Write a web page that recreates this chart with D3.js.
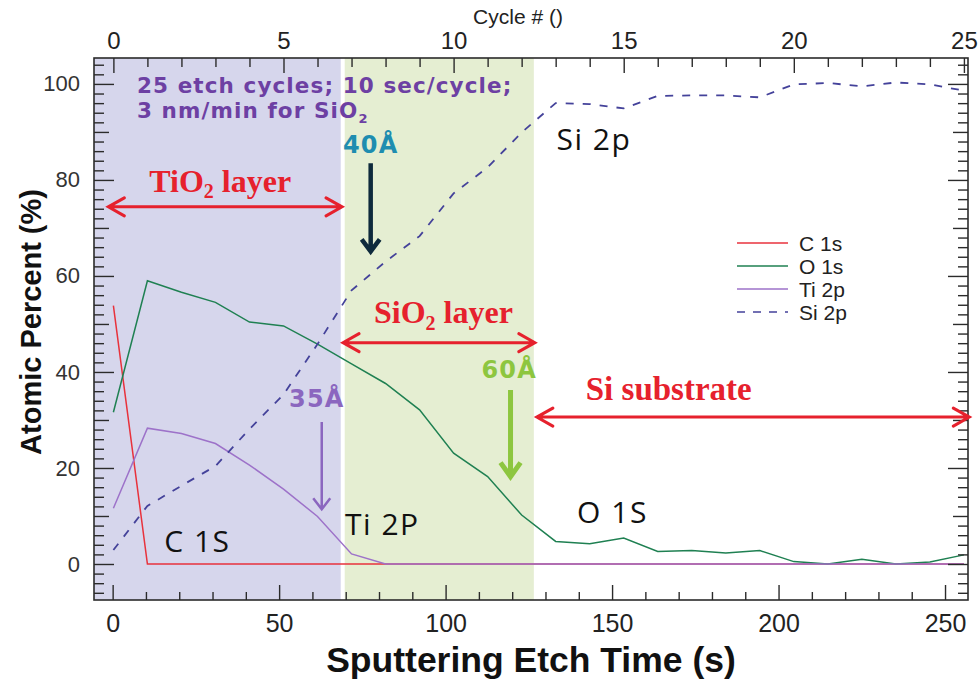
<!DOCTYPE html>
<html>
<head>
<meta charset="utf-8">
<script src="https://cdn.jsdelivr.net/npm/d3@7/dist/d3.min.js"></script>
<style>
  html, body { margin: 0; padding: 0; background: #fff; }
  svg { display: block; }
  .narrow { font-family: "Liberation Sans Narrow", "Arial Narrow", "Liberation Sans", Arial, sans-serif; font-stretch: condensed; }
  .sans { font-family: "Liberation Sans", Arial, sans-serif; }
  .wide { font-family: "DejaVu Sans", Verdana, sans-serif; font-weight: bold; }
  .serif { font-family: "Liberation Serif", "Times New Roman", serif; font-weight: bold; }
  .calib { font-family: "Open Sans", "Noto Sans", sans-serif; }
</style>
</head>
<body>
<svg id="chart" width="979" height="681"></svg>
<script>
// XPS depth profile: atomic percent vs. sputter etch time / etch cycle
const cycles = [0,1,2,3,4,5,6,7,8,9,10,11,12,13,14,15,16,17,18,19,20,21,22,23,24,25];
const c1s  = [53.8,0,0,0,0,0,0,0,0,0,0,0,0,0,0,0,0,0,0,0,0,0,0,0,0,0];
const o1s  = [31.6,59.0,56.6,54.5,50.4,49.6,45.8,41.7,37.6,32.1,23.1,18.2,10.2,4.7,4.2,5.4,2.6,2.8,2.3,2.8,0.5,0,1.0,0,0.4,1.9];
const ti2p = [11.6,28.3,27.2,25.1,20.6,15.6,9.9,2.1,0,0,0,0,0,0,0,0,0,0,0,0,0,0,0,0,0,0];
const si2p = [2.9,12.1,16.3,20.4,28.1,35.3,45.8,57.0,63.0,68.3,77.2,82.6,89.9,96.0,95.8,94.9,97.5,97.6,97.6,97.2,99.9,100.2,99.5,100.3,99.9,98.6];

const seriesNames  = ["C 1s", "O 1s", "Ti 2p", "Si 2p"];
const seriesColors = ["#e8323c", "#1f8052", "#9d72c9", "#44429a"];

const timeTicks    = [0, 50, 100, 150, 200, 250];
const cycleTicks   = [0, 5, 10, 15, 20, 25];
const percentTicks = [0, 20, 40, 60, 80, 100];

// layer bands along the etch-time axis (s)
const bandTiO2 = [-10, 68.5];
const bandSiO2 = [69.7, 126.5];

const svg = d3.select("#chart");
const L = 94, R = 968, T = 58, B = 600;

const x  = d3.scaleLinear().domain([-5.6, 256.9]).range([L, R]);   // etch time (s)
const xc = d3.scaleLinear().domain([-0.57, 25.12]).range([L, R]);  // cycle #
const y  = d3.scaleLinear().domain([-7.5, 105.4]).range([B, T]);   // atomic percent

const plot = svg.append("g");
plot.append("clipPath").attr("id", "clip")
  .append("rect").attr("x", L).attr("y", T).attr("width", R - L).attr("height", B - T);

// shaded layer regions
const bands = plot.append("g").attr("clip-path", "url(#clip)");
bands.append("rect")
  .attr("x", x(bandTiO2[0])).attr("y", T)
  .attr("width", x(bandTiO2[1]) - x(bandTiO2[0])).attr("height", B - T)
  .attr("fill", "#d6d6ec");
bands.append("rect")
  .attr("x", x(bandSiO2[0])).attr("y", T)
  .attr("width", x(bandSiO2[1]) - x(bandSiO2[0])).attr("height", B - T)
  .attr("fill", "#e5eed2");

// axes (ticks point inward)
const axCol = "#2b2b2b";
function styleAxis(g) {
  g.select(".domain").remove();
  g.selectAll(".tick line").attr("stroke", axCol).attr("stroke-width", 1.4);
  g.selectAll("text").attr("fill", "#222");
}
const yMinor = d3.range(-6, 105, 2).filter(v => v % 10 !== 0);
const yMid = [10, 30, 50, 70, 90];
[[L, d3.axisLeft], [R, d3.axisRight]].forEach(([px, ax]) => {
  svg.append("g").attr("transform", `translate(${px},0)`)
    .call(ax(y).tickValues(yMinor).tickSize(-10).tickFormat("")).call(styleAxis);
  svg.append("g").attr("transform", `translate(${px},0)`)
    .call(ax(y).tickValues(yMid).tickSize(-15).tickFormat("")).call(styleAxis);
});
svg.append("g").attr("transform", `translate(${R},0)`)
  .call(d3.axisRight(y).tickValues(percentTicks).tickSize(-20).tickFormat("")).call(styleAxis);
svg.append("g").attr("transform", `translate(${L},0)`)
  .call(d3.axisLeft(y).tickValues(percentTicks).tickSize(-20).tickPadding(14))
  .call(styleAxis)
  .call(g => g.selectAll("text").attr("class", "sans").style("font-size", "22px").attr("fill", "#333"));

// bottom: etch time
const tMinor = d3.range(0, 257, 10).filter(v => v % 50 !== 0);
svg.append("g").attr("transform", `translate(0,${B})`)
  .call(d3.axisBottom(x).tickValues(tMinor).tickSize(-8).tickFormat("")).call(styleAxis);
svg.append("g").attr("transform", `translate(0,${B})`)
  .call(d3.axisBottom(x).tickValues(timeTicks).tickSize(-15).tickPadding(14))
  .call(styleAxis)
  .call(g => g.selectAll("text").attr("class", "narrow").style("font-size", "25px"));

// top: cycle number
const cMinor = cycles.filter(v => v % 5 !== 0);
svg.append("g").attr("transform", `translate(0,${T})`)
  .call(d3.axisTop(xc).tickValues(cMinor).tickSize(-9).tickFormat("")).call(styleAxis);
svg.append("g").attr("transform", `translate(0,${T})`)
  .call(d3.axisTop(xc).tickValues(cycleTicks).tickSize(-15).tickPadding(9))
  .call(styleAxis)
  .call(g => g.selectAll("text").attr("class", "narrow").style("font-size", "24px"));

// frame
svg.append("rect").attr("x", L).attr("y", T).attr("width", R - L).attr("height", B - T)
  .attr("fill", "none").attr("stroke", axCol).attr("stroke-width", 1.6);

// axis titles
svg.append("text").attr("class", "narrow").attr("x", 518).attr("y", 24)
  .attr("text-anchor", "middle").style("font-size", "21px").attr("fill", "#222").text("Cycle # ()");
svg.append("text").attr("class", "narrow").attr("x", 531).attr("y", 672)
  .attr("text-anchor", "middle").style("font-size", "35.5px").style("font-weight", "bold")
  .attr("fill", "#111").text("Sputtering Etch Time (s)");
svg.append("text").attr("class", "narrow")
  .attr("transform", "translate(41,322) rotate(-90)")
  .attr("text-anchor", "middle").style("font-size", "29px").style("font-weight", "bold")
  .attr("fill", "#111").text("Atomic Percent (%)");

// series lines
const line = d3.line().x((d, i) => xc(cycles[i])).y(d => y(d));
const seriesData = [c1s, o1s, ti2p, si2p];
const lines = plot.append("g").attr("clip-path", "url(#clip)");
seriesData.forEach((vals, k) => {
  lines.append("path").datum(vals)
    .attr("d", line)
    .attr("fill", "none")
    .attr("stroke", seriesColors[k])
    .attr("stroke-width", k === 3 ? 1.8 : 1.5)
    .attr("stroke-dasharray", k === 3 ? "8,9" : null);
});

// legend
const leg = svg.append("g");
const legY = [243, 266, 289, 312];
seriesNames.forEach((name, k) => {
  leg.append("line").attr("x1", 737).attr("x2", 788).attr("y1", legY[k]).attr("y2", legY[k])
    .attr("stroke", seriesColors[k]).attr("stroke-width", 1.5)
    .attr("stroke-dasharray", k === 3 ? "8,8" : null);
  leg.append("text").attr("class", "sans").attr("x", 799).attr("y", legY[k])
    .attr("dy", "0.36em").style("font-size", "21px").attr("fill", "#222").text(name);
});

// ---- annotations (positioned in data units: seconds, percent) ----
const ann = svg.append("g");

function chevron(px, py, dx, dy) {
  return `M${px + dx},${py - dy}L${px},${py}L${px + dx},${py + dy}`;
}
function hArrow(t0, t1, v, color) {
  const x0 = x(t0), x1 = x(t1), yy = y(v);
  ann.append("path")
    .attr("d", `M${x0},${yy}L${x1},${yy}` + chevron(x0, yy, 16, 9) + chevron(x1, yy, -16, 9))
    .attr("fill", "none").attr("stroke", color).attr("stroke-width", 3)
    .attr("stroke-linejoin", "miter").attr("stroke-linecap", "round");
}
function vArrow(t, v0, v1, color, w, hw, hh) {
  const xx = x(t), y0 = y(v0), y1 = y(v1);
  ann.append("path")
    .attr("d", `M${xx},${y0}L${xx},${y1}M${xx - hw},${y1 - hh}L${xx},${y1}L${xx + hw},${y1 - hh}`)
    .attr("fill", "none").attr("stroke", color).attr("stroke-width", w)
    .attr("stroke-linejoin", "miter");
}
function subText(cls, t, v, parts, size, color, extra) {
  const el = ann.append("text").attr("class", cls).attr("x", x(t)).attr("y", y(v))
    .style("font-size", size + "px").attr("fill", color);
  if (extra) extra(el);
  parts.forEach(p => {
    const ts = el.append("tspan").text(p.s);
    if (p.sub) ts.style("font-size", Math.round(size * 0.62) + "px").attr("dy", size * 0.2);
    else if (p.after) ts.attr("dy", -size * 0.2);
  });
  return el;
}

const red = "#e6212d";
hArrow(-1.3, 68.9, 74.4, red);
hArrow(69.2, 126.8, 46.1, red);
hArrow(127.4, 257.3, 30.6, red);

subText("serif", 11, 77.5, [{s: "TiO"}, {s: "2", sub: true}, {s: " layer", after: true}], 32, red);
subText("serif", 78.5, 50.1, [{s: "SiO"}, {s: "2", sub: true}, {s: " layer", after: true}], 32, red);
subText("serif", 142.1, 34.2, [{s: "Si substrate"}], 33, red);

const purple = "#6d40a3";
const spaced = el => el.style("letter-spacing", "1.1px");
subText("wide", 7.3, 98.1, [{s: "25 etch cycles; 10 sec/cycle;"}], 21.5, purple, spaced);
subText("wide", 7.3, 92.85, [{s: "3 nm/min for SiO"}, {s: "2", sub: true}], 21.5, purple, spaced);

subText("wide", 69.2, 85.6, [{s: "40Å"}], 24, "#1e8db0", spaced);
vArrow(77.5, 83.5, 65.1, "#0e2a3c", 4.5, 9, 12);

subText("wide", 53, 32.8, [{s: "35Å"}], 24, "#8b66bf", spaced);
vArrow(62.8, 29.6, 11.4, "#8b66bf", 2.5, 8.5, 11);

subText("wide", 110.8, 38.7, [{s: "60Å"}], 24, "#8dc63f", spaced);
vArrow(119.5, 36.25, 18.2, "#8dc63f", 5, 10, 14);

// series name tags
const tagSpace = el => el.style("letter-spacing", "1.5px");
subText("calib", 15.5, 2.4, [{s: "C 1S"}], 30, "#111", tagSpace);
subText("calib", 69.8, 6.0, [{s: "Ti 2P"}], 30, "#111", tagSpace);
subText("calib", 139.5, 8.5, [{s: "O 1S"}], 30, "#111", tagSpace);
subText("calib", 133.3, 86.25, [{s: "Si 2p"}], 30, "#111", tagSpace);
</script>
</body>
</html>
